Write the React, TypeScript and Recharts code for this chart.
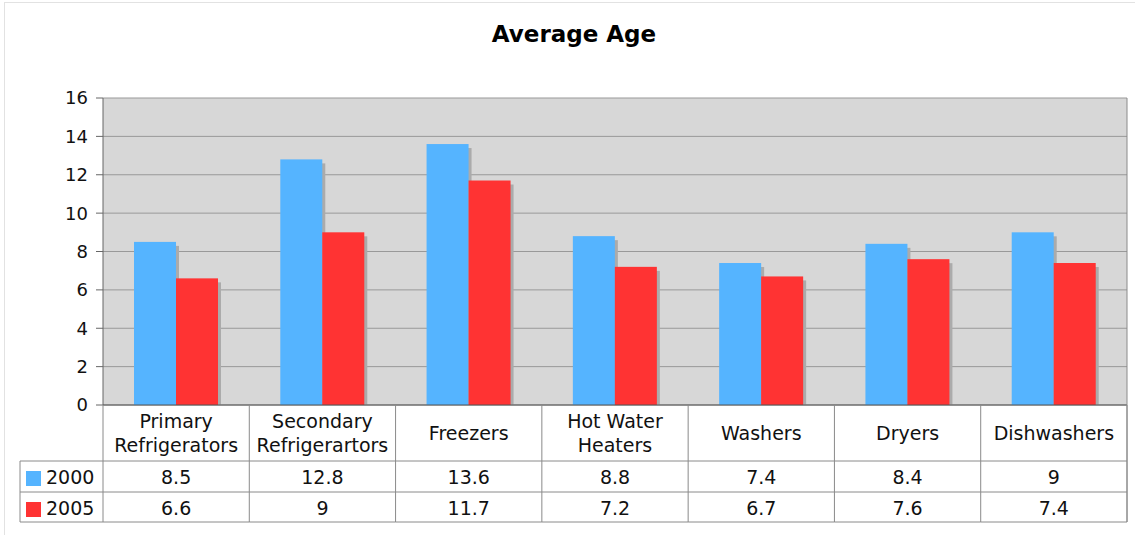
import React from "react";
import { BarChart, Bar, XAxis, YAxis, CartesianGrid } from "recharts";

const categories = [
  "Primary Refrigerators",
  "Secondary Refrigerartors",
  "Freezers",
  "Hot Water Heaters",
  "Washers",
  "Dryers",
  "Dishwashers",
];
const categoryLines = [
  ["Primary", "Refrigerators"],
  ["Secondary", "Refrigerartors"],
  ["Freezers"],
  ["Hot Water", "Heaters"],
  ["Washers"],
  ["Dryers"],
  ["Dishwashers"],
];
const series2000 = [8.5, 12.8, 13.6, 8.8, 7.4, 8.4, 9];
const series2005 = [6.6, 9, 11.7, 7.2, 6.7, 7.6, 7.4];
const yTicks = [0, 2, 4, 6, 8, 10, 12, 14, 16];
const seriesNames = ["2000", "2005"];

const data = categories.map((c, i) => ({
  name: c,
  idx: i,
  v2000: series2000[i],
  v2005: series2005[i],
}));

const W = 1135;
const H = 535;
const M_TOP = 98;
const M_RIGHT = 8;
const M_BOTTOM = 13;
const Y_W = 103;
const X_H = 117;
const PLOT_L = Y_W;
const PLOT_R = W - M_RIGHT;
const PLOT_B = H - M_BOTTOM - X_H;
const COL_W = (PLOT_R - PLOT_L) / categories.length;
const ROW1_B = PLOT_B + 56;
const ROW2_B = ROW1_B + 31;
const ROW3_B = ROW2_B + 30;
const LEG_L = 20;

const BLUE = "#55b4ff";
const RED = "#ff3333";
const LINE = "#8a8a8a";
const FONT = "'DejaVu Sans', Verdana, sans-serif";
const TFS = 19;

const ShadowBar = (props: any) => {
  const { x, y, width, height, fill } = props;
  if (!height || height <= 0) return null;
  return (
    <g>
      <rect x={x + 3} y={y + 4} width={width} height={Math.max(0, height - 4)} fill="#ababab" />
      <rect x={x} y={y} width={width} height={height} fill={fill} />
    </g>
  );
};

const TableTick = (props: any) => {
  const { x, payload } = props;
  const i = payload.index;
  const left = x - COL_W / 2;
  const right = x + COL_W / 2;
  const lines = categoryLines[i];
  const textProps = {
    fontFamily: FONT,
    fontSize: TFS,
    fill: "#111",
    textAnchor: "middle" as const,
  };
  return (
    <g>
      <line x1={right} y1={PLOT_B} x2={right} y2={ROW3_B} stroke={LINE} strokeWidth={1} />
      {i === 0 && (
        <g>
          <line x1={left} y1={PLOT_B} x2={left} y2={ROW3_B} stroke={LINE} strokeWidth={1} />
          <line x1={LEG_L} y1={ROW1_B} x2={left} y2={ROW1_B} stroke={LINE} />
          <line x1={LEG_L} y1={ROW2_B} x2={left} y2={ROW2_B} stroke={LINE} />
          <line x1={LEG_L} y1={ROW3_B} x2={left} y2={ROW3_B} stroke={LINE} />
          <line x1={LEG_L} y1={ROW1_B} x2={LEG_L} y2={ROW3_B} stroke={LINE} />
          <rect x={LEG_L + 6} y={ROW1_B + 10} width={15} height={15} fill={BLUE} />
          <text x={LEG_L + 26} y={ROW1_B + 23} fontFamily={FONT} fontSize={TFS} fill="#111">
            {seriesNames[0]}
          </text>
          <rect x={LEG_L + 6} y={ROW2_B + 10} width={15} height={15} fill={RED} />
          <text x={LEG_L + 26} y={ROW2_B + 23} fontFamily={FONT} fontSize={TFS} fill="#111">
            {seriesNames[1]}
          </text>
        </g>
      )}
      {i === categories.length - 1 && (
        <line x1={right} y1={M_TOP} x2={right} y2={ROW3_B} stroke={LINE} strokeWidth={1} />
      )}
      <line x1={left} y1={ROW1_B} x2={right} y2={ROW1_B} stroke={LINE} />
      <line x1={left} y1={ROW2_B} x2={right} y2={ROW2_B} stroke={LINE} />
      <line x1={left} y1={ROW3_B} x2={right} y2={ROW3_B} stroke={LINE} />
      {lines.length === 2 ? (
        <g>
          <text {...textProps} x={x} y={PLOT_B + 23}>{lines[0]}</text>
          <text {...textProps} x={x} y={PLOT_B + 47}>{lines[1]}</text>
        </g>
      ) : (
        <text {...textProps} x={x} y={PLOT_B + 35}>{lines[0]}</text>
      )}
      <text {...textProps} x={x} y={ROW1_B + 23}>{String(series2000[i])}</text>
      <text {...textProps} x={x} y={ROW2_B + 23}>{String(series2005[i])}</text>
    </g>
  );
};

export default function App() {
  return (
    <div style={{ position: "absolute", left: 0, top: 0, width: W, height: H, background: "#fff", overflow: "hidden" }}>
      <div
        style={{
          position: "absolute",
          left: 4,
          top: 2,
          width: W,
          height: H,
          borderTop: "1px solid #e2e2e2",
          borderLeft: "1px solid #e2e2e2",
        }}
      />
      <div
        style={{
          position: "absolute",
          left: 0,
          top: 21,
          width: 1148,
          textAlign: "center",
          fontFamily: FONT,
          fontWeight: "bold",
          fontSize: 23,
          color: "#000",
        }}
      >
        Average Age
      </div>
      <div style={{ position: "absolute", left: 0, top: 0 }}>
        <BarChart
          width={W}
          height={H}
          data={data}
          margin={{ top: M_TOP, right: M_RIGHT, bottom: M_BOTTOM, left: 0 }}
          barGap={0}
          barSize={42}
        >
          <CartesianGrid vertical={false} stroke="#999" fill="#d7d7d7" />
          <YAxis
            width={Y_W}
            domain={[0, 16]}
            ticks={yTicks}
            interval={0}
            tickSize={7}
            tickMargin={8}
            axisLine={{ stroke: "#666" }}
            tickLine={{ stroke: "#666" }}
            tick={{ fontFamily: FONT, fontSize: 18, fill: "#111" }}
          />
          <XAxis
            dataKey="name"
            height={X_H}
            interval={0}
            tickLine={false}
            axisLine={{ stroke: "#555" }}
            tick={<TableTick />}
          />
          <Bar dataKey="v2000" fill={BLUE} isAnimationActive={false} shape={<ShadowBar />} />
          <Bar dataKey="v2005" fill={RED} isAnimationActive={false} shape={<ShadowBar />} />
        </BarChart>
      </div>
    </div>
  );
}
